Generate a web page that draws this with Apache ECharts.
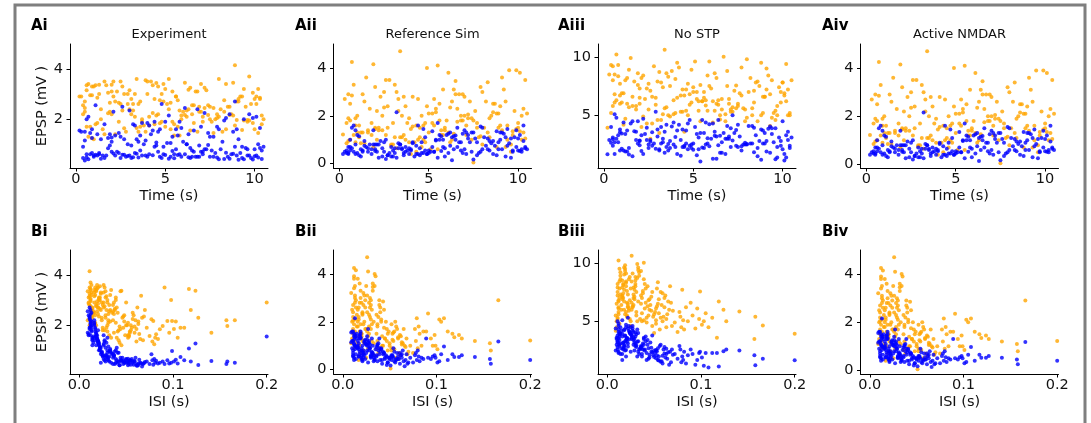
<!DOCTYPE html>
<html><head><meta charset="utf-8">
<script src="https://cdn.jsdelivr.net/npm/echarts@6/dist/echarts.min.js"></script>
<style>html,body{margin:0;padding:0;background:#fff}#c{width:1091px;height:423px}</style>
</head><body><div id="c"></div>
<script>
// ---- data: one entry per presynaptic spike (shared train) ----
const spikeTime = [
 5.6,0.7,8.9,3.2,6.8,1.9,9.7,4.4,2.6,7.5,
 2.1,7.9,4.8,0.5,9.4,3.7,6.1,10.3,1.4,5.2,
 8.3,3.0,6.6,1.1,4.1,9.9,2.4,7.2,5.8,0.9,
 4.6,9.1,1.6,6.3,2.9,8.0,0.4,5.4,10.1,3.5,
 7.0,2.2,5.0,9.6,0.8,3.9,8.6,1.8,6.9,4.3,
 1.2,6.4,3.3,8.8,5.3,0.6,10.4,4.7,2.7,7.7,
 9.3,4.0,7.4,2.0,5.9,1.0,3.6,8.4,6.2,10.0,
 3.4,8.1,0.3,5.5,10.2,2.5,7.1,4.9,9.0,1.5,
 6.0,1.3,9.5,4.2,7.6,3.1,0.9,8.7,5.1,2.3,
 10.5,5.7,2.8,7.3,0.5,9.2,4.5,1.7,6.5,3.8,
 2.0,6.7,4.4,9.8,1.3,8.2,3.0,5.6,0.7,7.8,
 8.5,3.6,0.6,6.2,4.8,10.3,2.2,7.0,1.9,5.3,
 4.9,9.4,7.2,1.0,3.3,5.9,8.9,0.4,6.6,2.6,
 7.5,0.8,5.2,3.9,9.1,2.4,6.3,10.0,4.6,1.6,
 1.1,8.0,3.4,6.9,5.5,9.7,0.5,4.1,7.9,2.9,
 6.4,4.3,9.9,2.1,7.7,1.4,5.0,3.2,8.4,10.4,
 3.7,9.3,1.8,5.8,8.6,0.9,6.8,2.7,10.2,4.7,
 9.0,2.5,6.1,0.6,4.0,7.4,1.2,8.8,3.5,5.4,
 7.1,4.5,10.1,2.0,8.3,5.7,3.1,9.6,6.5,0.2
];
const isi = [
 0.010,0.012,0.011,0.013,0.010,0.014,0.012,0.011,0.013,0.015,
 0.011,0.009,0.012,0.014,0.013,0.011,0.012,0.010,0.014,0.013,
 0.012,0.011,0.015,0.009,0.013,0.012,0.014,0.011,0.013,0.012,
 0.016,0.018,0.020,0.017,0.022,0.019,0.024,0.021,0.016,0.023,
 0.018,0.020,0.017,0.025,0.019,0.022,0.016,0.021,0.024,0.018,
 0.020,0.023,0.017,0.019,0.022,0.016,0.025,0.018,0.021,0.020,
 0.024,0.017,0.019,0.022,0.018,0.023,0.020,0.016,0.021,0.025,
 0.026,0.028,0.030,0.027,0.033,0.029,0.031,0.034,0.026,0.032,
 0.028,0.030,0.035,0.027,0.029,0.032,0.026,0.031,0.033,0.028,
 0.030,0.027,0.034,0.029,0.031,0.026,0.033,0.028,0.032,0.030,
 0.036,0.039,0.042,0.038,0.045,0.040,0.048,0.037,0.043,0.050,
 0.041,0.037,0.044,0.039,0.047,0.036,0.042,0.046,0.038,0.049,
 0.040,0.043,0.037,0.045,0.039,0.048,0.041,0.036,0.044,0.047,
 0.051,0.054,0.058,0.052,0.062,0.056,0.066,0.053,0.060,0.068,
 0.055,0.052,0.064,0.057,0.061,0.059,0.067,0.054,0.063,0.070,
 0.053,0.057,0.061,0.050,0.065,0.055,0.059,0.069,0.052,0.063,
 0.072,0.075,0.077,0.078,0.079,0.080,0.081,0.082,0.084,0.086,
 0.089,0.091,0.094,0.096,0.098,0.099,0.101,0.103,0.105,0.108,
 0.112,0.117,0.119,0.124,0.127,0.141,0.157,0.158,0.166,0.200
];
// EPSP (mV) per spike, orange and blue cells
const expOrange = [
 2.9,3.4,4.15,2.6,3.1,2.3,3.7,2.8,3.3,2.5,
 3.5,2.2,3.0,2.7,3.2,2.0,3.45,2.85,2.4,3.6,
 2.75,3.15,2.55,3.35,2.1,3.05,2.65,3.25,2.35,2.95,
 3.3,2.8,3.5,2.4,3.0,3.6,2.2,3.1,2.9,2.6,
 3.4,2.7,3.2,1.9,2.95,3.55,2.5,3.05,2.3,3.35,
 2.85,3.25,2.1,3.45,2.65,3.15,1.8,2.75,3.0,2.45,
 2.9,3.5,2.55,3.1,2.0,3.3,2.7,3.4,2.35,2.8,
 3.6,2.4,2.9,1.8,3.2,2.6,2.1,3.4,2.7,1.6,
 2.3,3.0,2.5,3.5,1.9,2.8,3.3,2.2,2.6,3.1,
 2.0,2.75,1.5,3.15,2.45,2.9,2.15,3.35,2.55,1.75,
 2.2,3.1,1.8,2.6,3.37,1.5,2.4,2.9,1.3,2.0,
 2.5,1.7,3.35,2.1,1.9,2.8,1.4,2.3,2.65,1.6,
 2.7,1.95,2.45,1.2,3.0,2.15,1.75,2.55,1.85,2.35,
 2.0,1.7,2.4,1.5,2.7,1.9,3.17,1.6,2.2,1.4,
 1.8,2.1,1.65,2.5,1.35,1.95,2.3,1.75,2.05,2.6,
 1.55,2.25,1.85,2.9,1.45,2.0,1.7,2.35,1.6,2.15,
 1.9,1.57,2.24,1.35,2.17,1.24,1.5,1.64,1.45,1.84,
 1.97,3.5,2.17,1.7,3.0,2.17,1.85,2.15,1.5,1.9,
 1.9,3.44,2.6,3.37,2.3,1.7,2.2,1.97,2.2,2.9
];
const expBlue = [
 1.6,2.1,2.7,1.8,2.4,1.4,2.2,1.9,2.5,1.3,
 2.3,1.7,2.6,1.5,2.0,1.85,2.45,1.65,1.2,2.15,
 1.95,2.35,1.55,2.55,1.75,2.05,1.45,2.25,1.9,1.6,
 1.5,1.2,1.8,1.4,1.0,1.6,0.9,1.3,2.1,1.1,
 1.7,1.35,1.9,0.8,1.45,1.15,2.2,1.25,0.95,1.55,
 1.4,0.85,1.75,1.5,1.05,2.0,0.75,1.6,1.2,1.3,
 0.9,1.85,1.45,1.1,1.65,0.5,1.35,2.05,1.0,0.8,
 1.2,0.8,1.5,0.6,1.0,1.3,0.7,0.9,1.6,0.55,
 1.1,0.65,0.85,1.4,0.75,0.95,1.25,0.6,1.05,0.7,
 0.9,1.35,0.5,0.8,1.15,0.65,0.95,0.55,0.75,1.0,
 0.7,0.5,0.9,0.45,0.6,1.1,0.55,0.8,0.4,0.65,
 0.5,0.75,0.6,1.0,0.45,0.85,0.55,0.7,0.95,0.5,
 0.6,0.4,0.8,0.55,0.65,0.5,0.9,0.45,0.7,0.58,
 0.5,0.6,0.42,0.55,0.38,0.65,0.48,0.52,0.7,0.45,
 0.58,0.4,0.62,0.5,0.44,0.55,0.35,0.6,0.47,0.53,
 0.45,0.56,0.39,0.63,0.5,0.42,0.57,0.48,0.66,0.41,
 0.55,0.45,0.84,0.6,0.42,0.65,0.5,0.58,0.47,0.5,
 0.55,0.45,0.6,0.47,0.5,0.97,0.55,0.62,0.47,0.73,
 0.6,1.07,0.55,1.27,0.41,0.57,0.45,0.55,0.5,1.55
];
const refOrange = [
 2.5,4.25,1.5,3.0,2.0,4.15,1.2,2.7,3.5,1.8,
 2.2,3.2,0.9,2.9,1.6,2.4,3.8,1.3,2.6,2.1,
 3.4,1.7,2.3,1.1,2.8,3.9,1.4,2.05,3.1,1.9,
 2.0,3.6,1.4,2.6,0.8,3.0,1.7,2.3,3.8,1.1,
 2.8,1.5,2.1,0.5,3.3,1.9,2.5,1.2,2.9,1.6,
 1.3,3.1,2.2,0.7,2.7,1.8,3.5,1.0,2.4,1.5,
 2.6,0.4,1.9,3.2,1.4,2.0,2.8,1.1,2.35,1.7,
 4.7,1.5,2.7,4.1,2.0,3.0,1.2,4.0,2.4,3.6,
 1.8,2.9,3.9,0.9,2.2,3.3,1.6,2.5,0.6,2.8,
 2.1,1.4,3.5,2.6,1.9,3.1,1.1,2.3,3.45,1.7,
 1.5,2.9,1.0,2.2,1.3,2.6,0.8,1.8,2.85,1.1,
 2.0,1.2,2.5,0.9,1.7,2.3,1.4,2.0,0.7,1.6,
 2.4,1.0,1.9,1.3,2.7,1.5,2.1,0.85,1.75,1.2,
 0.05,1.2,1.7,0.9,1.4,2.0,1.0,1.5,0.7,1.3,
 1.6,0.8,1.1,1.8,0.6,1.35,0.95,1.55,1.15,0.75,
 1.25,0.5,1.45,1.0,1.7,0.85,1.3,0.65,1.9,1.05,
 1.0,0.7,1.7,1.2,2.15,0.9,1.8,1.5,1.0,1.6,
 1.6,2.35,1.3,1.0,1.45,1.0,0.85,2.1,2.0,2.15,
 1.6,1.5,1.35,1.45,1.3,1.2,1.1,0.8,2.9,1.22
];
const refBlue = [
 1.2,1.5,0.6,2.15,0.9,1.4,0.5,1.6,1.0,1.3,
 0.8,1.55,1.1,0.45,1.45,0.7,1.25,1.6,0.95,1.35,
 1.05,0.55,1.5,1.15,0.85,1.4,0.65,1.2,1.0,0.4,
 0.9,1.3,0.5,1.1,0.7,1.5,0.45,1.0,1.2,0.6,
 1.4,0.8,0.55,1.05,1.6,0.65,0.95,0.4,1.25,0.75,
 0.6,1.15,0.85,1.35,0.5,1.0,0.7,1.45,0.35,0.9,
 1.1,0.55,1.3,0.8,0.65,1.2,0.45,0.95,0.75,1.05,
 0.8,1.1,0.5,1.7,0.6,0.9,1.3,0.4,1.0,0.7,
 1.2,0.55,0.85,0.3,1.05,0.65,1.4,0.75,0.5,0.95,
 0.6,1.15,0.45,0.9,0.7,1.25,0.35,0.8,1.0,0.55,
 0.6,0.9,0.4,1.1,0.5,0.75,0.3,1.0,0.65,0.45,
 0.85,0.35,0.7,1.3,0.55,0.95,0.25,0.6,0.8,0.5,
 0.4,0.75,1.05,0.45,0.65,0.3,0.9,0.55,0.7,0.2,
 0.17,0.5,0.7,0.4,0.6,0.3,0.14,0.55,0.45,0.65,
 0.35,0.6,0.8,0.45,0.25,0.55,0.4,0.9,0.5,0.3,
 0.6,0.4,0.7,0.5,0.35,0.75,0.45,0.25,0.55,0.65,
 0.5,0.3,0.6,0.7,0.4,0.8,0.55,0.35,0.5,0.45,
 1.3,0.5,0.45,0.55,0.6,0.5,0.3,0.35,0.65,0.97,
 0.4,0.65,0.53,0.53,0.6,0.53,0.45,0.25,1.18,0.4
];
const noStpOrange = [
 6.5,10.2,5.2,7.8,4.5,8.6,5.8,7.2,3.0,6.0,
 8.2,5.5,6.8,9.2,4.8,7.5,6.2,5.0,8.9,7.0,
 5.6,7.9,6.4,4.2,9.5,6.1,7.3,5.3,8.4,6.7,
 7.2,9.0,5.8,8.2,6.5,9.8,5.2,7.6,6.9,8.6,
 6.0,8.4,7.0,4.6,9.3,6.3,7.9,5.5,8.8,6.7,
 8.0,5.9,7.4,9.5,6.2,8.5,5.0,7.7,6.6,9.1,
 6.8,8.1,5.6,7.3,9.6,6.1,8.3,7.1,5.4,7.8,
 10.6,7.0,8.5,6.2,9.4,7.7,5.5,8.9,6.6,9.9,
 7.3,8.2,5.2,9.1,6.9,8.7,6.0,7.5,9.6,6.4,
 8.0,6.3,9.2,7.1,5.8,8.4,6.7,7.9,5.0,8.8,
 6.5,10.0,5.3,7.4,6.0,8.2,4.6,7.0,6.3,5.6,
 7.8,5.0,6.8,8.6,5.9,7.2,4.9,6.4,7.6,5.4,
 6.1,8.0,5.7,6.9,5.1,7.5,6.6,9.3,5.5,7.1,
 5.8,8.35,6.4,5.1,7.2,4.3,6.0,7.8,5.4,6.6,
 6.9,4.8,5.6,7.5,6.2,5.0,8.0,6.5,4.5,5.9,
 6.3,5.3,7.0,4.0,6.7,5.7,7.4,4.6,6.1,5.2,
 4.9,4.1,5.8,5.4,4.5,7.7,5.1,4.3,6.2,5.0,
 6.6,5.5,4.4,6.1,5.2,7.55,4.7,5.0,5.7,4.5,
 5.3,3.6,6.7,6.0,5.0,5.85,3.5,5.4,4.65,3.95
];
const noStpBlue = [
 3.5,4.8,2.6,4.0,3.0,4.5,2.3,3.8,2.9,4.2,
 3.3,2.5,4.6,3.1,3.9,2.8,4.3,3.6,2.2,3.4,
 4.1,3.2,2.7,4.4,3.7,2.4,3.95,5.0,3.05,3.55,
 3.7,2.8,4.5,3.2,5.3,2.5,4.0,3.5,1.7,4.2,
 3.0,4.7,2.6,3.9,3.3,4.4,2.2,3.6,4.1,2.9,
 3.4,4.6,2.7,3.8,3.1,5.1,2.4,4.3,3.55,2.0,
 4.05,3.15,3.75,2.85,4.25,3.45,2.55,3.95,3.25,4.5,
 3.6,4.1,2.9,4.6,3.3,2.5,3.9,2.2,3.5,4.3,
 3.0,3.7,2.7,4.2,3.2,2.0,3.8,2.8,4.0,3.4,
 3.1,4.4,2.6,3.5,2.95,3.85,2.4,3.65,3.25,4.05,
 2.8,3.5,2.3,3.1,1.9,2.6,3.8,2.2,3.0,2.5,
 3.3,2.0,2.7,3.6,2.4,2.9,1.7,3.2,2.6,2.1,
 2.5,3.4,2.85,2.15,3.0,2.35,3.7,2.65,1.8,2.75,
 2.3,2.7,1.6,2.5,1.9,2.9,1.3,2.1,2.6,1.5,
 2.0,2.55,1.8,3.0,2.25,1.4,2.4,1.7,2.65,2.15,
 2.45,1.55,2.8,1.95,2.35,1.65,2.05,2.6,1.85,2.2,
 2.2,1.8,2.9,2.6,1.5,2.0,1.7,2.4,1.4,2.1,
 2.6,2.2,1.3,1.7,2.3,2.4,1.9,1.2,2.3,1.05,
 2.3,2.3,1.15,2.45,2.6,2.5,2.1,1.25,1.8,1.67
];
// Active NMDAR panels read the same as Reference Sim
const nmdarOrange = refOrange;
const nmdarBlue = refBlue;

const panelTitles = ['Experiment','Reference Sim','No STP','Active NMDAR'];
const rowTags = [['Ai','Aii','Aiii','Aiv'],['Bi','Bii','Biii','Biv']];
const timeTicks = [0,5,10];
const isiTicks = [0,0.1,0.2];
const epspTicksExp = [2,4];
const epspTicksSim = [0,2,4];
const epspTicksNoStp = [5,10];

// ---- layout / style ----
const models = [
 {o: expOrange, b: expBlue, ticks: epspTicksExp, ymin: 0.05, ymax: 5.0},
 {o: refOrange, b: refBlue, ticks: epspTicksSim, ymin: -0.18, ymax: 5.0},
 {o: noStpOrange, b: noStpBlue, ticks: epspTicksNoStp, ymin: 0.5, ymax: 11.1},
 {o: nmdarOrange, b: nmdarBlue, ticks: epspTicksSim, ymin: -0.15, ymax: 5.0}
];
const lefts = [70, 333.5, 598, 860.5];
const tops = [44, 250];
const W = 198, H = 124;
const FONT = 'DejaVu Sans';
const ORANGE = '#ffa500', BLUE = '#0000ff';

const grid = [], xAxis = [], yAxis = [], series = [], title = [];
let gi = 0;
for (let r = 0; r < 2; r++) {
  for (let c = 0; c < 4; c++) {
    const m = models[c];
    grid.push({left: lefts[c], top: tops[r], width: W, height: H});
    const xt = r === 0 ? timeTicks : isiTicks;
    xAxis.push({
      type: 'value', gridIndex: gi,
      min: r === 0 ? -0.33 : -0.0099, max: r === 0 ? 10.75 : 0.2014,
      axisLine: {show: true, onZero: false, lineStyle: {color: '#000', width: 1}},
      axisTick: {show: true, length: 3.5, customValues: xt, lineStyle: {color: '#000', width: 1}},
      axisLabel: {customValues: xt, fontFamily: FONT, fontSize: 14.5, color: '#111', margin: 4,
        formatter: r === 0 ? (v => String(v)) : (v => v.toFixed(1))},
      splitLine: {show: false},
      name: r === 0 ? 'Time (s)' : 'ISI (s)', nameLocation: 'middle', nameGap: 21,
      nameTextStyle: {fontFamily: FONT, fontSize: 14.5, color: '#111'}
    });
    yAxis.push({
      type: 'value', gridIndex: gi, min: m.ymin, max: m.ymax,
      axisLine: {show: true, onZero: false, lineStyle: {color: '#000', width: 1}},
      axisTick: {show: true, length: 3.5, customValues: m.ticks, lineStyle: {color: '#000', width: 1}},
      axisLabel: {customValues: m.ticks, fontFamily: FONT, fontSize: 14.5, color: '#111', margin: 7},
      splitLine: {show: false},
      name: c === 0 ? 'EPSP (mV )' : '', nameLocation: 'middle', nameGap: 20,
      nameTextStyle: {fontFamily: FONT, fontSize: 14.5, color: '#111'}
    });
    const xs = r === 0 ? spikeTime : isi;
    series.push({type: 'scatter', xAxisIndex: gi, yAxisIndex: gi, symbolSize: 4,
      itemStyle: {color: ORANGE}, data: xs.map((x, i) => [x, m.o[i]])});
    series.push({type: 'scatter', xAxisIndex: gi, yAxisIndex: gi, symbolSize: 4,
      itemStyle: {color: BLUE}, data: xs.map((x, i) => [x, m.b[i]])});
    if (r === 0) {
      title.push({text: panelTitles[c], left: lefts[c] + W / 2, top: 28, textAlign: 'center', padding: 0,
        textStyle: {fontFamily: FONT, fontSize: 13, fontWeight: 'normal', color: '#111'}});
    }
    const tagX = [31, 295, 558, 822][c];
    title.push({text: rowTags[r][c], left: tagX, top: r === 0 ? 19 : 225, padding: 0,
      textStyle: {fontFamily: FONT, fontSize: 15, fontWeight: 'bold', color: '#000'}});
    gi++;
  }
}

const chart = echarts.init(document.getElementById('c'), null, {renderer: 'canvas'});
chart.setOption({
  animation: false,
  backgroundColor: '#fff',
  title, grid, xAxis, yAxis, series,
  graphic: [{type: 'rect', shape: {x: 15, y: 5, width: 1070, height: 440},
    style: {fill: 'none', stroke: '#7f7f7f', lineWidth: 3}, silent: true}]
});
</script></body></html>
